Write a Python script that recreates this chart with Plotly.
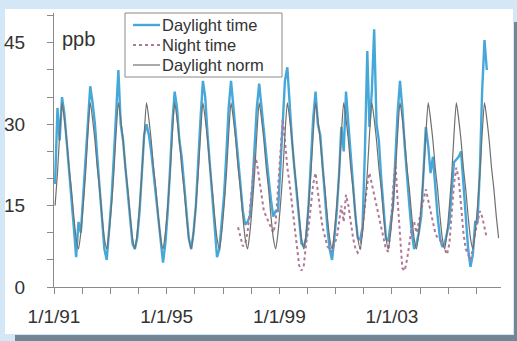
import pandas as pd
import plotly.graph_objects as go

# ---------------- data (ppb, monthly values) ----------------
DAYLIGHT_START = "1991-01-01"
DAYLIGHT = [
    19, 33, 27, 35, 32, 27, 21, 16, 11, 5.5, 12, 10,      # 1991
    17, 25, 32, 37, 34, 30, 24, 18, 12, 7, 5, 10,         # 1992
    16, 24, 33, 40, 30, 27, 22, 17, 12, 8, 7, 9,          # 1993
    14, 22, 28, 30, 28, 25, 21, 16, 12, 8, 4.5, 8,        # 1994
    14, 22, 30, 36, 33, 27, 24, 19, 14, 9, 7, 10,         # 1995
    15, 24, 31, 38, 35, 28, 22, 17, 11, 5.5, 7, 12,       # 1996
    17, 25, 33, 38, 33, 28, 23, 18, 14, 11.5, 12, 13,     # 1997
    18, 26, 33, 37.5, 33, 29, 25, 20, 16, 13, 14, 14,     # 1998
    22, 30, 38, 40.5, 33, 27, 22, 17, 12, 8, 7.5, 9,      # 1999
    15, 24, 31, 36, 30, 28, 22, 16, 11, 7, 5, 9,          # 2000
    14, 21, 29.5, 25, 36, 30, 24, 18, 13, 9, 8.7, 11,     # 2001
    25, 43.5, 29.5, 36, 47.5, 30, 27, 20, 14, 9, 8.5, 12, # 2002
    15, 24, 32, 38, 33, 26, 20, 15, 10, 7, 8, 10,         # 2003
    13, 21, 29.5, 26, 21, 24, 18, 13, 9, 7.4, 8, 10,      # 2004
    12, 18, 23, 23.5, 24, 25, 19, 12, 7, 3.7, 6, 12,      # 2005
    12, 22, 36, 45.5, 40,                                 # 2006
]

NIGHT_START = "1997-07-01"
NIGHT = [
    11, 9, 7.5, 8, 10, 14,                                # 1997 (Jul-Dec)
    19, 24, 23, 20, 17, 14, 13, 12, 11, 10, 12, 18,       # 1998
    24, 31, 27, 22, 19, 15, 11, 7, 4, 3, 4, 8,            # 1999
    11, 15, 19, 21, 17, 14, 11, 9, 7.5, 7, 6.5, 8,        # 2000
    9, 12, 15, 12, 17, 15, 12, 9, 7, 6.3, 7, 11,          # 2001
    15, 19, 21, 19, 17, 15, 13, 11, 9, 7, 6.5, 11,        # 2002
    18, 23, 16, 9, 3.5, 3, 5, 8, 11, 12, 10, 12,          # 2003
    14, 16, 18, 16, 14, 12, 10, 9, 8.7, 8, 7, 6,          # 2004
    8, 13, 19, 22, 20, 15, 10, 7, 6, 5, 7, 10,            # 2005
    12, 14, 13, 11, 9,                                    # 2006 (Jan-May)
]

# daylight norm: the same seasonal climatology every year (Jan..Dec)
NORM_BY_MONTH = [15, 21, 28, 34, 31, 27, 22, 18, 13, 9, 7, 10]
NORM_START = "1991-01-01"
NORM_END = "2006-10-01"

SERIES_NAMES = ["Daylight time", "Night time", "Daylight norm"]
X_TICK_VALS = ["1991-01-01", "1995-01-01", "1999-01-01", "2003-01-01"]
X_TICK_TEXT = ["1/1/91", "1/1/95", "1/1/99", "1/1/03"]
Y_TICK_VALS = [0, 15, 30, 45]

# ---------------- helpers ----------------
def month_dates(start, n):
    return pd.date_range(start, periods=n, freq="MS") + pd.Timedelta(days=14)

day_x = month_dates(DAYLIGHT_START, len(DAYLIGHT))
night_x = month_dates(NIGHT_START, len(NIGHT))
norm_months = pd.date_range(NORM_START, NORM_END, freq="MS")
norm_x = norm_months + pd.Timedelta(days=14)
norm_y = [NORM_BY_MONTH[d.month - 1] for d in norm_months]

FONT = "Liberation Sans, Arial, sans-serif"
TXT = "#333333"
AXC = "#8a8a8a"
STYLES = [
    dict(color="#45a8d9", width=2.4),
    dict(color="#b07896", width=2, dash="dot"),
    dict(color="#6f6f6f", width=1.2),
]

fig = go.Figure()
fig.add_trace(go.Scatter(x=day_x, y=DAYLIGHT, mode="lines", name=SERIES_NAMES[0],
                         line=STYLES[0]))
fig.add_trace(go.Scatter(x=night_x, y=NIGHT, mode="lines", name=SERIES_NAMES[1],
                         line=STYLES[1]))
fig.add_trace(go.Scatter(x=norm_x, y=norm_y, mode="lines", name=SERIES_NAMES[2],
                         line=dict(**STYLES[2], shape="spline", smoothing=0.6)))

# plot area in pixels: left 54, right 501, top 13, bottom 287
L, R, T, B = 54, 501, 13, 287
W, H = R - L, B - T
def px(x):
    return (x - L) / W
def py(y):
    return (B - y) / H

shapes = [
    # light frame + white panel
    dict(type="rect", xref="paper", yref="paper", x0=px(0), x1=px(514), y0=py(335), y1=py(0),
         fillcolor="#d4e7f6", line=dict(width=0), layer="below"),
    dict(type="rect", xref="paper", yref="paper", x0=px(5), x1=px(513), y0=py(334), y1=py(9),
         fillcolor="#ffffff", line=dict(width=0), layer="below"),
    dict(type="rect", xref="paper", yref="paper", x0=px(0), x1=px(15), y0=py(341), y1=py(335),
         fillcolor="#d4e7f6", line=dict(width=0), layer="below"),
    dict(type="rect", xref="paper", yref="paper", x0=px(514), x1=px(517), y0=py(22), y1=py(0),
         fillcolor="#d4e7f6", line=dict(width=0), layer="below"),
]

# legend drawn as a framed box with line samples and text
LEG_X0, LEG_X1, LEG_Y0, LEG_Y1 = 125, 282, 13, 77
ROW_Y = [25, 45, 65]
shapes.append(dict(type="rect", xref="paper", yref="paper",
                   x0=px(LEG_X0), x1=px(LEG_X1), y0=py(LEG_Y1), y1=py(LEG_Y0),
                   fillcolor="#ffffff", line=dict(color=AXC, width=1), layer="above"))
annotations = []
for name, st, ry in zip(SERIES_NAMES, STYLES, ROW_Y):
    shapes.append(dict(type="line", xref="paper", yref="paper",
                       x0=px(133), x1=px(160), y0=py(ry), y1=py(ry),
                       line=st, layer="above"))
    annotations.append(dict(text=name, xref="paper", yref="paper", x=px(161), y=py(ry),
                            xanchor="left", yanchor="middle", showarrow=False, borderpad=0,
                            font=dict(family=FONT, size=16.5, color=TXT)))
annotations.append(dict(text="ppb", xref="paper", yref="paper", x=px(60), y=py(26),
                        xanchor="left", yanchor="top", showarrow=False,
                        font=dict(family=FONT, size=20, color=TXT)))

fig.update_layout(
    width=517, height=341,
    margin=dict(l=L, r=517 - R, t=T, b=341 - B, autoexpand=False),
    paper_bgcolor="#6f8797",
    plot_bgcolor="#ffffff",
    font=dict(family=FONT, size=19, color=TXT),
    shapes=shapes,
    annotations=annotations,
    showlegend=False,
)

fig.update_xaxes(
    type="date", automargin=False,
    range=["1991-01-01", "2006-11-15"],
    tickmode="array", tickvals=X_TICK_VALS, ticktext=X_TICK_TEXT,
    ticks="outside", ticklen=6, tickcolor=AXC, tickwidth=1,
    minor=dict(tickmode="linear", tick0="1991-01-01", dtick="M12",
               ticks="outside", ticklen=6, tickcolor=AXC, showgrid=False),
    showline=True, linecolor=AXC, linewidth=1,
    showgrid=False, zeroline=False,
    ticklabelstandoff=6,
    tickfont=dict(family=FONT, size=19, color=TXT),
)
fig.update_yaxes(
    automargin=False,
    range=[0, 50.5],
    tickmode="array", tickvals=Y_TICK_VALS,
    ticks="outside", ticklen=6, tickcolor=AXC, tickwidth=1,
    minor=dict(tickmode="linear", tick0=0, dtick=5,
               ticks="outside", ticklen=6, tickcolor=AXC, showgrid=False),
    showline=True, linecolor=AXC, linewidth=1,
    showgrid=False, zeroline=False,
    ticklabelstandoff=18,
    tickfont=dict(family=FONT, size=19, color=TXT),
)

fig.write_html("out.html", config={"displayModeBar": False},
               post_script="document.body.style.margin='0px';document.body.style.overflow='hidden';")
